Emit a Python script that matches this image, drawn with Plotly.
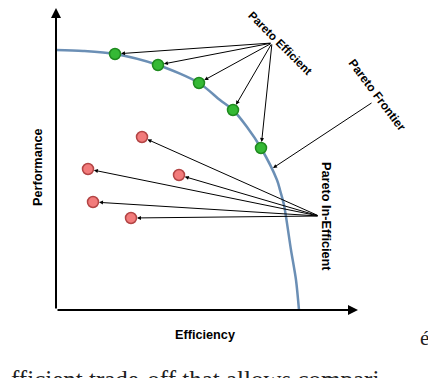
import plotly.graph_objects as go

# diagram units: origin at the axes corner, roughly 1 unit = 1 px
frontier_eff = [0, 27, 59, 102, 143, 164, 177, 191, 205, 221, 224, 228, 235, 240, 243]
frontier_perf = [260, 259, 256, 245, 227, 210, 200, 183, 162, 130, 120, 105, 60, 30, 0]

efficient_eff = [59, 102, 143, 177, 205]
efficient_perf = [256, 245, 227, 200, 162]

inefficient_eff = [86, 32, 123, 37, 75]
inefficient_perf = [173, 141, 135, 108, 92]

efficient_label_at = (216, 267)
inefficient_label_at = (263, 94)
frontier_label_at = (317, 208)
frontier_pointer = (217, 142)
axis_len = 302

bold = dict(family="Liberation Sans, Arial", size=12.7, color="black", weight="bold")

fig = go.Figure()

fig.add_trace(go.Scatter(
    x=frontier_eff, y=frontier_perf, mode="lines",
    line=dict(color="#6b8fb5", width=2.5, shape="spline", smoothing=0.8),
    hoverinfo="skip"
))
fig.add_trace(go.Scatter(
    x=efficient_eff, y=efficient_perf, mode="markers",
    marker=dict(size=11, color="#35b935", line=dict(color="#1f8a1f", width=1.5))
))
fig.add_trace(go.Scatter(
    x=inefficient_eff, y=inefficient_perf, mode="markers",
    marker=dict(size=11, color="#f27b7b", line=dict(color="#b34545", width=1.5))
))

ann = []


def arrow(tail, tip, standoff=6, width=1, head=2, size=0.8):
    return dict(x=tip[0], y=tip[1], ax=tail[0], ay=tail[1], xref="x", yref="y",
                axref="x", ayref="y", text="", showarrow=True, arrowhead=head,
                arrowsize=size, arrowwidth=width, arrowcolor="black", standoff=standoff)


# axes with arrow heads
ann.append(arrow((0, 0), (0, axis_len), standoff=0, width=2, head=2, size=1))
ann.append(arrow((0, 0), (axis_len, 0), standoff=0, width=2, head=2, size=1))

for x, y in zip(efficient_eff, efficient_perf):
    ann.append(arrow(efficient_label_at, (x, y)))
for x, y in zip(inefficient_eff, inefficient_perf):
    ann.append(arrow(inefficient_label_at, (x, y)))
ann.append(arrow(frontier_label_at, frontier_pointer, standoff=0))

ann += [
    dict(x=224, y=267, text="Pareto Efficient", textangle=45, font=dict(bold, size=11.5)),
    dict(x=321, y=215, text="Pareto Frontier", textangle=53, font=dict(bold, size=12)),
    dict(x=270, y=94, text="Pareto In-Efficient", textangle=90),
    dict(x=-18, y=143, text="Performance", textangle=-90),
    dict(x=149, y=-25, text="Efficiency"),
]
for a in ann[-5:]:
    a.setdefault("font", bold)
    a.update(xref="x", yref="y", showarrow=False)

# page text around the figure, cut off by the crop like in the source image
serif = dict(family="Liberation Serif, Times New Roman, serif", size=21, color="#222")
ann.append(dict(x=368, y=-28, xref="x", yref="y", text="é", showarrow=False, font=serif))
ann.append(dict(x=-47, y=-54, xref="x", yref="y", xanchor="left", yanchor="top",
                text="fficient trade-off that allows compari", showarrow=False,
                font=dict(family=serif["family"], size=25, color="#222")))

# the page body has an 8px margin, so the figure is 8px smaller and ranges start there
fig.update_layout(
    width=428, height=370,
    margin=dict(l=0, r=0, t=0, b=0),
    paper_bgcolor="white", plot_bgcolor="white",
    showlegend=False,
    annotations=ann,
    xaxis=dict(range=[-48, 380], visible=False, fixedrange=True),
    yaxis=dict(range=[-68, 302], visible=False, fixedrange=True),
)

fig.write_html("out.html")
